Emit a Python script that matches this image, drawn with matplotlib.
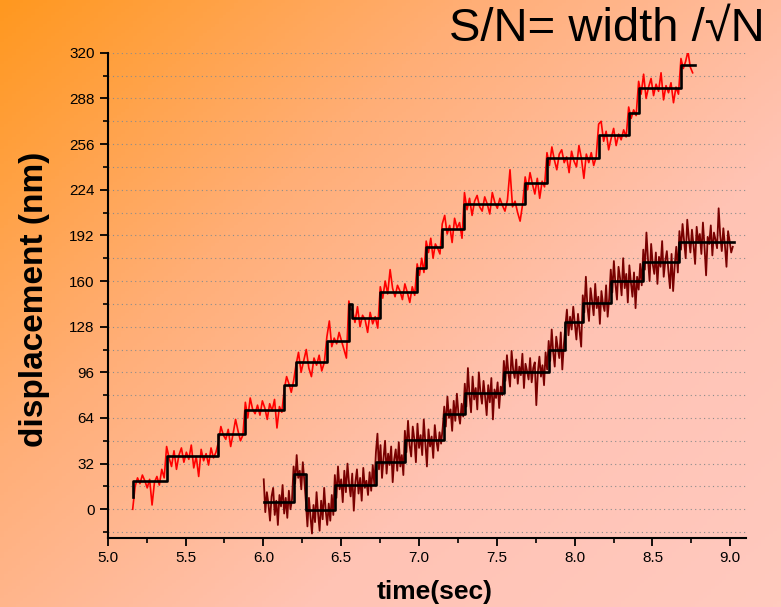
import numpy as np
import matplotlib
matplotlib.use("Agg")
import matplotlib.pyplot as plt
from matplotlib.colors import LinearSegmentedColormap
from matplotlib.ticker import MultipleLocator

plt.rcParams["font.family"] = ["Liberation Sans", "DejaVu Sans"]

# step fit of the upper (red) trace: edges in s, levels in nm
red_edges = [5.16, 5.16, 5.378, 5.711, 5.884, 6.134, 6.209, 6.408, 6.549, 6.572, 6.751,
             6.988, 7.046, 7.149, 7.292, 7.682, 7.822, 8.154, 8.347, 8.411, 8.683, 8.773]
red_levels = [8.4, 19.5, 37.3, 52.5, 69.8, 86.8, 102.9, 117.9, 143.6, 134.0, 152.0,
              168.8, 184.0, 196.8, 214.3, 228.8, 246.3, 262.1, 277.8, 295.0, 311.2]

# raw red trace, one list per plateau (skip the zero-width first one)
red_raw = [
    [0, 16, 22, 18, 24, 20, 15, 21, 3, 19, 23, 17, 28, 22],
    [44, 36, 30, 41, 28, 38, 43, 33, 40, 35, 45, 29, 37, 23, 42, 34, 39, 31, 43, 36, 40],
    [47, 58, 52, 49, 56, 44, 53, 63, 55, 48, 52],
    [75, 64, 78, 70, 67, 73, 66, 76, 71, 63, 74, 69, 77, 57, 72, 68],
    [84, 93, 88, 82, 90],
    [101, 110, 96, 104, 112, 99, 93, 106, 101, 108, 97, 103],
    [121, 132, 114, 120, 116, 124, 118, 112, 106],
    [146, 140],
    [140, 131, 142, 128, 136, 133, 124, 138, 130, 135, 127],
    [156, 148, 160, 151, 168, 155, 149, 157, 153, 147, 158, 152, 145, 156, 150],
    [172, 164, 176, 166],
    [188, 180, 190, 176, 186, 183, 179],
    [200, 206, 193, 199, 187, 204, 197, 201, 190],
    [222, 210, 218, 206, 216, 220, 212, 209, 219, 214, 207, 222, 215, 211, 218, 213,
     209, 217, 238, 212, 216, 208, 202, 214],
    [233, 224, 236, 228, 221, 232, 218, 230, 226],
    [250, 241, 254, 245, 238, 249, 252, 243, 247, 236, 251, 244, 240, 255, 246, 232,
     249, 243, 250, 241, 247],
    [270, 272, 258, 265, 252, 260, 267, 255, 263, 259, 266, 261],
    [282, 274, 280, 276],
    [300, 291, 305, 288, 296, 302, 290, 298, 293, 306, 287, 297, 292, 299, 285, 296, 291],
    [316, 309, 314, 321, 310, 306],
]

# step fit of the lower (dark red) trace
dark_edges = [6.002, 6.194, 6.273, 6.459, 6.723, 6.909, 7.162, 7.294, 7.545, 7.833,
              7.94, 8.052, 8.232, 8.441, 8.673, 9.026]
dark_levels = [5.4, 24.7, -0.5, 17.3, 32.9, 48.5, 67.0, 81.7, 96.2, 111.6, 131.2,
               144.3, 160.1, 173.0, 187.7]

dark_raw = [
    [21, -2, 12, 4, -8, 9, 15, -4, 6, -11, 10, 2, 17, -3, 8, -6, 13, 0, 7],
    [30, 18, 38, 22, 27, 14, 33, 20],
    [5, -12, 8, -5, -17, 3, -9, 12, -3, -15, 6, -7, 15, -1, -11, 4, -8, 10, -4],
    [24, 8, 30, 14, 21, 5, 27, 12, 32, 18, 9, 25, -1, 19, 28, 11, 22, 6, 29, 15, 20,
     10, 26, 13, 31, 17],
    [40, 53, 28, 45, 22, 36, 48, 25, 39, 31, 44, 19, 35, 42, 27, 47, 30, 38, 24],
    [55, 40, 62, 45, 37, 58, 49, 33, 60, 43, 52, 38, 63, 47, 30, 56, 44, 51, 36, 59,
     48, 41, 54, 46, 57],
    [72, 58, 79, 64, 70, 55, 76, 62, 81, 67, 60, 74, 65],
    [88, 72, 99, 80, 68, 93, 77, 85, 70, 96, 82, 74, 90, 79, 66, 87, 75, 92, 63, 84,
     78, 89, 71, 86, 80],
    [104, 90, 108, 95, 86, 111, 98, 92, 105, 88, 100, 94, 109, 85, 102, 97, 91, 106,
     89, 99, 103, 73, 96, 107, 93, 101, 87, 110, 98],
    [118, 104, 126, 110, 100, 121, 113, 106, 124, 98, 115],
    [128, 140, 122, 135, 126, 142, 130, 119, 137, 125, 114],
    [150, 138, 163, 142, 132, 155, 146, 136, 158, 141, 149, 130, 153, 144, 139, 157,
     135, 148],
    [168, 152, 174, 158, 147, 170, 162, 150, 176, 155, 165, 145, 171, 159, 149, 166,
     141, 163, 154, 172, 157],
    [182, 168, 194, 175, 160, 186, 172, 165, 180, 158, 177, 170, 188, 163, 174, 181,
     167, 155, 179, 153, 171, 184, 166],
    [195, 182, 200, 188, 176, 203, 190, 180, 196, 185, 172, 198, 187, 193, 179, 201,
     184, 164, 191, 186, 199, 178, 194, 189, 183, 211, 192, 181, 197, 185, 170, 195,
     188, 180, 184],
]

x_ticks = [5.0, 5.5, 6.0, 6.5, 7.0, 7.5, 8.0, 8.5, 9.0]
y_ticks = [0, 32, 64, 96, 128, 160, 192, 224, 256, 288, 320]


def raw_trace(edges, segs):
    t, y = [], []
    for i, vals in enumerate(segs):
        t.append(np.linspace(edges[i], edges[i + 1], len(vals), endpoint=False))
        y.append(vals)
    return np.concatenate(t), np.concatenate(y).astype(float)


fig = plt.figure(figsize=(7.81, 6.07), dpi=100)

# diagonal orange -> pink background
bg = fig.add_axes([0, 0, 1, 1], zorder=-10)
gx, gy = np.meshgrid(np.linspace(0, 1, 200), np.linspace(0, 1, 200))
grad = (gx * 0.55 + gy * 0.45)
cmap = LinearSegmentedColormap.from_list("bg", ["#ff981f", "#ffae76", "#ffc3b4", "#ffc9bf"])
bg.imshow(grad, cmap=cmap, aspect="auto", extent=[0, 1, 0, 1], origin="upper")
bg.axis("off")

ax = fig.add_axes([0.138, 0.114, 0.817, 0.799])
ax.set_facecolor("none")

rt, ry = raw_trace(red_edges[1:], red_raw)
dt, dy = raw_trace(dark_edges, dark_raw)
ax.plot(rt, ry, color="#ff0000", lw=1.2, zorder=2)
ax.plot(dt, dy, color="#780000", lw=1.3, zorder=2)

ax.step(red_edges, red_levels + [red_levels[-1]], where="post", color="black", lw=1.9, zorder=3)
ax.step(dark_edges, dark_levels + [dark_levels[-1]], where="post", color="black", lw=1.9, zorder=3)

ax.set_xlim(5.0, 9.1)
ax.set_ylim(-20, 320)
ax.set_xticks(x_ticks)
ax.set_yticks(y_ticks)
ax.xaxis.set_minor_locator(MultipleLocator(0.25))
ax.yaxis.set_minor_locator(MultipleLocator(16))
ax.grid(True, which="both", axis="y", color="#8c8c8c", linestyle=(0, (1, 3)), lw=0.8)
ax.set_axisbelow(True)
for s in ["top", "right"]:
    ax.spines[s].set_visible(False)
for s in ["left", "bottom"]:
    ax.spines[s].set_linewidth(1.5)
ax.tick_params(which="major", direction="out", length=6, width=1.3, labelsize=11)
ax.tick_params(which="minor", direction="out", length=3.5, width=1.2)

fig.text(35 / 781, 1 - 299 / 607, "displacement (nm)", rotation=90, ha="center",
         va="center", fontsize=24, fontweight="bold")
fig.text(435 / 781, 1 - 592 / 607, "time(sec)", ha="center", va="center",
         fontsize=19, fontweight="bold")
fig.text(765 / 781, 1 - 29 / 607, "S/N= width /\u221aN", ha="right", va="center",
         fontsize=34)

fig.savefig("out.png", dpi=100)
